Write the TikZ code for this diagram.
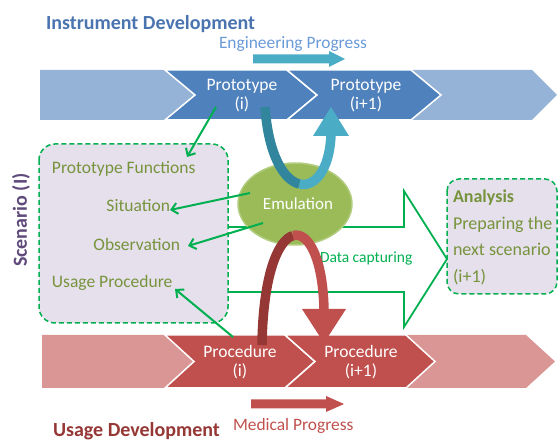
\documentclass[tikz,border=0pt]{standalone}
\usepackage{fontspec}
\setmainfont{Carlito}
\usetikzlibrary{arrows.meta,shapes.geometric}
\definecolor{blight}{HTML}{95B3D7}
\definecolor{bdark}{HTML}{4F81BD}
\definecolor{rlight}{HTML}{D99694}
\definecolor{rdark}{HTML}{C0504D}
\definecolor{rdeep}{HTML}{953735}
\definecolor{cinstr}{HTML}{4A74B0}
\definecolor{ceng}{HTML}{6A9AD8}
\definecolor{cteal}{HTML}{4BACC6}
\definecolor{cteald}{HTML}{31859C}
\definecolor{cgreen}{HTML}{00B050}
\definecolor{colive}{HTML}{77933C}
\definecolor{clilac}{HTML}{E5E0EC}
\definecolor{cpurple}{HTML}{604A7B}
\definecolor{cemu}{HTML}{9BBB59}
\definecolor{cemul}{HTML}{B3CD80}
\newcommand\fsz[1]{\fontsize{#1}{#1}\selectfont}
\begin{document}
\begin{tikzpicture}[x=1pt,y=-1pt,
  txt/.style={inner sep=0pt, outer sep=0pt},
  chev/.style={draw=white, line width=1.5pt, line join=miter},
  scenbox/.style={draw=cgreen, fill=clilac, line width=1.5pt, dash pattern=on 5pt off 3pt, rounded corners=16pt},
  garrow/.style={draw=cgreen, line width=2pt, -{Straight Barb[length=6pt,width=11pt,line width=2pt]}},
  boxtxt/.style={txt, font=\fsz{17.5}, text=colive},
  chevtxt/.style={txt, font=\fontsize{17.5}{19}\selectfont, text=white, align=center},
  ribbon/.style={line width=9.5pt, line cap=butt}
]
\useasboundingbox (0,0) rectangle (558,443);

% ---- top band
\fill[blight] (40,70) -- (532,70) -- (557,95) -- (532,120) -- (40,120) -- cycle;
\filldraw[chev, fill=bdark] (165,70) -- (287,70) -- (317,95) -- (287,120) -- (165,120) -- (195,95) -- cycle;
\filldraw[chev, fill=bdark] (287,70) -- (411,70) -- (441,95) -- (411,120) -- (287,120) -- (317,95) -- cycle;
\node[chevtxt] (proto1) at (242,96) {Prototype\\(i)};
\node[chevtxt] (proto2) at (366,96) {Prototype\\(i+1)};

% ---- bottom band
\fill[rlight] (42,335) -- (526,335) -- (555,361.5) -- (526,388) -- (42,388) -- cycle;
\filldraw[chev, fill=rdark] (165,335) -- (285,335) -- (315,361.5) -- (285,388) -- (165,388) -- (194,361.5) -- cycle;
\filldraw[chev, fill=rdark] (285,335) -- (406,335) -- (435,361.5) -- (406,388) -- (285,388) -- (315,361.5) -- cycle;
\node[chevtxt] (proc1) at (240,362) {Procedure\\(i)};
\node[chevtxt] (proc2) at (361,362) {Procedure\\(i+1)};

% ---- titles
\node[txt, anchor=base west, font=\fsz{20}\bfseries, text=cinstr] (instr) at (46,29.5) {Instrument Development};
\node[txt, anchor=base west, font=\fsz{17.4}, text=ceng] (eng) at (219,49) {Engineering Progress};
\fill[cteal] (253,54.5) -- (329,54.5) -- (329,51) -- (345,59) -- (329,67) -- (329,63.5) -- (253,63.5) -- cycle;
\node[txt, anchor=base west, font=\fsz{20}\bfseries, text=rdeep] (usage) at (53,436.5) {Usage Development};
\node[txt, anchor=base west, font=\fsz{17.4}, text=rdark] (med) at (233,431) {Medical Progress};
\fill[rdark] (251,399.5) -- (326,399.5) -- (326,396) -- (344,404) -- (326,412) -- (326,408.5) -- (251,408.5) -- cycle;

% ---- big data capturing arrow
\filldraw[draw=cgreen, fill=white, line width=1.8pt, line join=miter]
  (222,227) -- (404,227) -- (404,191) -- (447,259) -- (404,327) -- (404,292) -- (222,292);
\node[txt, anchor=base west, font=\fsz{15.5}, text=cgreen] (data) at (320,263) {Data capturing};

% ---- scenario box
\draw[scenbox] (39,144) rectangle (228,323);
\node[txt, anchor=base west, font=\fsz{20}\bfseries, text=cpurple, rotate=90] (scen) at (27,267) {Scenario (I)};
\node[boxtxt, anchor=base west] (pf) at (52,174) {Prototype Functions};
\node[boxtxt, anchor=base east] (sit) at (170,212) {Situation};
\node[boxtxt, anchor=base east] (obs) at (180,251) {Observation};
\node[boxtxt, anchor=base west] (up) at (52,288) {Usage Procedure};

% ---- analysis box
\draw[scenbox, rounded corners=12pt] (447,179) rectangle (557,294);
\node[txt, anchor=base west, font=\fsz{18}\bfseries, text=colive] (an1) at (453,203) {Analysis};
\node[txt, anchor=base west, font=\fsz{18}, text=colive] (an2) at (453,230) {Preparing the};
\node[txt, anchor=base west, font=\fsz{18}, text=colive] (an3) at (453,256) {next scenario};
\node[txt, anchor=base west, font=\fsz{18}, text=colive] (an4) at (453,283) {(i+1)};

% ---- emulation
\node[ellipse, fill=cemu, draw=cemul, line width=1.5pt, minimum width=114pt, minimum height=82pt, inner sep=0pt,
      text=white, font=\fsz{17}] (emu) at (295,204) {\hspace*{6pt}Emulation};

% ---- green arrows
\coordinate (g1s) at (216,107); \coordinate (g1e) at (187,157);
\coordinate (g2s) at (250,193); \coordinate (g2e) at (170,210);
\coordinate (g3s) at (263,223); \coordinate (g3e) at (188,246);
\coordinate (g4s) at (233,337); \coordinate (g4e) at (175,289);
\draw[garrow] (g1s) -- (g1e);
\draw[garrow] (g2s) -- (g2e);
\draw[garrow] (g3s) -- (g3e);
\draw[garrow] (g4s) -- (g4e);

% ---- blue ribbon (prototype i -> emulation -> prototype i+1)
\coordinate (b0) at (265,107);
\coordinate (bm) at (299.5,184);
\coordinate (b3) at (331,135);
\draw[ribbon, cteald] (b0) .. controls (268.5,156) and (284.25,180.5) .. (bm);
\draw[ribbon, cteal] (bm) .. controls (314.75,187.5) and (329.5,170) .. (b3);
\fill[cteal] (313,136) -- (349,136) -- (331,107) -- cycle;

% ---- red ribbon (procedure i -> emulation -> procedure i+1)
\coordinate (r0) at (262,345);
\coordinate (rm) at (293,235.6);
\coordinate (r3) at (324,310);
\draw[ribbon, rdeep] (r0) .. controls (263,275) and (278,240) .. (rm);
\draw[ribbon, rdark] (rm) .. controls (308,231.25) and (323,257.5) .. (r3);
\fill[rdark] (302,309) -- (346,309) -- (324,343) -- cycle;
\end{tikzpicture}
\end{document}
